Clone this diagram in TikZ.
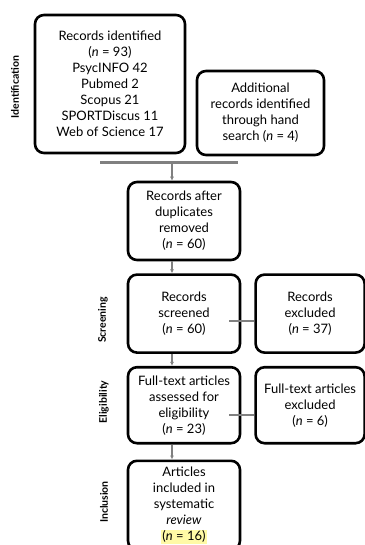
\documentclass[tikz,border=0pt]{standalone}
\usepackage{fontspec}
\setmainfont{Lato}
\usetikzlibrary{arrows.meta,positioning,calc}

\begin{document}
\begin{tikzpicture}[
  x=1pt,y=1pt,
  node distance=12pt and 13pt,
  box/.style={draw,line width=2.6pt,rounded corners=9pt,align=center,minimum width=112pt,minimum height=78pt,inner sep=2pt,font=\fontsize{13}{16}\selectfont},
  phase/.style={rotate=90,font=\bfseries\fontsize{10.5}{12}\selectfont},
  arr/.style={-{Latex[length=4pt,width=4pt]},gray,line width=1.2pt},
  link/.style={gray,line width=2pt}
]
  \useasboundingbox (0,0) rectangle (364,-545);
  \node[box,minimum width=150pt,minimum height=138pt] (ident) at (110,-84) {Records identified\\(\textit{n} = 93)\\PsycINFO 42\\Pubmed 2\\Scopus 21\\SPORTDiscus 11\\Web of Science 17};
  \node[box,minimum width=127pt,minimum height=84pt] (hand) at (260.5,-113) {Additional\\records identified\\through hand\\search (\textit{n} = 4)};
  \coordinate (barl) at (100,-163);
  \coordinate (barr) at (238,-163);
  \coordinate (merge) at (172,-163);
  \node[box] (dup) at (184,-221) {Records after\\duplicates\\removed\\(\textit{n} = 60)};
  \node[box,below=of dup] (screen) {Records\\screened\\(\textit{n} = 60)};
  \node[box,right=of screen,minimum width=109pt] (excl) {Records\\excluded\\(\textit{n} = 37)};
  \node[box,below=of screen,minimum height=76pt] (elig) {Full-text articles\\assessed for\\eligibility\\(\textit{n} = 23)};
  \node[box,right=of elig,minimum width=109pt,minimum height=76pt] (ftex) {Full-text articles\\excluded\\(\textit{n} = 6)};
  \node[box,below=15pt of elig,minimum height=89pt] (incl) {Articles\\included in\\systematic\\\textit{review}\\{\fboxsep=1pt\colorbox{yellow!35}{(\textit{n} = 16)}}};
  % phase labels
  \node[phase] (lid) at (15,-87) {Identification};
  \node[phase] (lsc) at (103,-320) {Screening};
  \node[phase] (lel) at (104,-402) {Eligibility};
  \node[phase] (lin) at (104,-502) {Inclusion};
  % connectors
  \draw[link,line width=3pt] (barl) -- (barr);
  \draw[arr] (merge) -- (merge |- dup.north);
  \draw[arr] (dup.south -| merge) -- (screen.north -| merge);
  \draw[arr] (screen.south -| merge) -- (elig.north -| merge);
  \draw[arr] (elig.south -| merge) -- (incl.north -| merge);
  \draw[link] ([shift={(-12pt,-7pt)}]screen.east) -- ([yshift=-7pt]excl.west);
  \draw[link] ([shift={(-12pt,-10pt)}]elig.east) -- ([yshift=-10pt]ftex.west);
\end{tikzpicture}
\end{document}
